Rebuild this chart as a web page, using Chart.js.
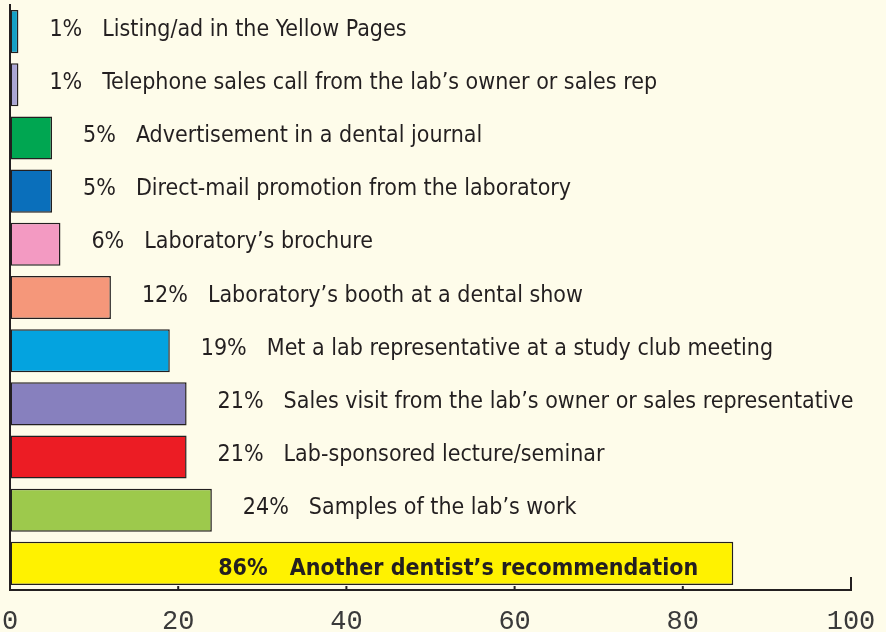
<!DOCTYPE html>
<html>
<head>
<meta charset="utf-8">
<title>How dentists choose a lab</title>
<script src="https://cdn.jsdelivr.net/npm/chart.js@4.4.1/dist/chart.umd.min.js"></script>
<style>
  html, body { margin: 0; padding: 0; background: #fefcea; }
  #wrap { width: 886px; height: 632px; }
</style>
</head>
<body>
<div id="wrap"><canvas id="chart_sources" width="886" height="632"></canvas></div>
<script>
// data, top bar first
var categories = [
  "Listing/ad in the Yellow Pages",
  "Telephone sales call from the lab\u2019s owner or sales rep",
  "Advertisement in a dental journal",
  "Direct-mail promotion from the laboratory",
  "Laboratory\u2019s brochure",
  "Laboratory\u2019s booth at a dental show",
  "Met a lab representative at a study club meeting",
  "Sales visit from the lab\u2019s owner or sales representative",
  "Lab-sponsored lecture/seminar",
  "Samples of the lab\u2019s work",
  "Another dentist\u2019s recommendation"
];
var percents = [1, 1, 5, 5, 6, 12, 19, 21, 21, 24, 86];
var xTicks = [0, 20, 40, 60, 80, 100];

var barColors = ["#14a0c6", "#aaa6d4", "#00a651", "#0a6fbb", "#f39ac2",
                 "#f5977a", "#04a3df", "#8780be", "#ec1c24", "#9dc94c", "#fff200"];

var labelFont = "'Liberation Sans Narrow', 'DejaVu Sans Condensed', 'Roboto', sans-serif";
var inkColor  = "#231f20";

// percent + text written after each bar (inside the long one)
var barLabels = {
  id: 'barLabels',
  afterDatasetsDraw: function (chart) {
    var ctx = chart.ctx;
    var meta = chart.getDatasetMeta(0);
    ctx.save();
    ctx.fillStyle = inkColor;
    ctx.textBaseline = 'alphabetic';
    meta.data.forEach(function (bar, i) {
      var pct = percents[i] + '%';
      var txt = categories[i];
      if (percents[i] > 50) {
        ctx.font = "bold 23px " + labelFont;
        var wp = ctx.measureText(pct).width;
        var wt = ctx.measureText(txt).width;
        var x0 = bar.x - 35 - wt - 22 - wp;
        ctx.fillText(pct, x0, bar.y + 12);
        ctx.fillText(txt, x0 + wp + 22, bar.y + 12);
      } else {
        ctx.font = "23px " + labelFont;
        var x = bar.x + 31;
        ctx.fillText(pct, x, bar.y + 4);
        ctx.fillText(txt, x + ctx.measureText(pct).width + 20, bar.y + 4);
      }
    });
    ctx.restore();
  }
};

// small upward ticks on the bottom axis
var innerTicks = {
  id: 'innerTicks',
  afterDraw: function (chart) {
    var ctx = chart.ctx;
    var xs = chart.scales.x;
    var bottom = chart.chartArea.bottom;
    ctx.save();
    ctx.strokeStyle = inkColor;
    ctx.lineWidth = 2;
    xTicks.forEach(function (v) {
      if (v === 0) return;
      var px = xs.getPixelForValue(v);
      ctx.beginPath();
      ctx.moveTo(px, bottom);
      ctx.lineTo(px, bottom - (v === 100 ? 13 : 4));
      ctx.stroke();
    });
    ctx.restore();
  }
};

var ctx1 = document.getElementById("chart_sources").getContext("2d");
new Chart(ctx1, {
  type: 'bar',
  data: {
    labels: categories,
    datasets: [{
      data: percents,
      backgroundColor: barColors,
      borderColor: inkColor,
      borderWidth: 1.5,
      borderSkipped: false,
      categoryPercentage: 1,
      barPercentage: 0.81
    }]
  },
  options: {
    indexAxis: 'y',
    responsive: false,
    animation: false,
    layout: { padding: { left: 10, right: 35, top: 5, bottom: 0 } },
    plugins: {
      legend: { display: false },
      tooltip: { enabled: false }
    },
    scales: {
      x: {
        min: 0,
        max: 100,
        afterBuildTicks: function (scale) {
          scale.ticks = xTicks.map(function (v) { return { value: v }; });
        },
        afterFit: function (scale) { scale.height = 42; },
        // invisible tick marks just push the labels down
        grid: { display: true, drawOnChartArea: false, drawTicks: true, tickLength: 18, tickColor: 'rgba(0,0,0,0)' },
        border: { display: true, color: inkColor, width: 2 },
        ticks: {
          padding: 0,
          color: '#3a3a3a',
          font: { family: "'Liberation Mono', 'DejaVu Sans Mono', monospace", size: 27, lineHeight: 1 }
        }
      },
      y: {
        afterFit: function (scale) { scale.width = 0; },
        grid: { display: false, drawTicks: false },
        border: { display: true, color: inkColor, width: 2 },
        ticks: { display: false, padding: 0 }
      }
    }
  },
  plugins: [barLabels, innerTicks]
});
</script>
</body>
</html>
